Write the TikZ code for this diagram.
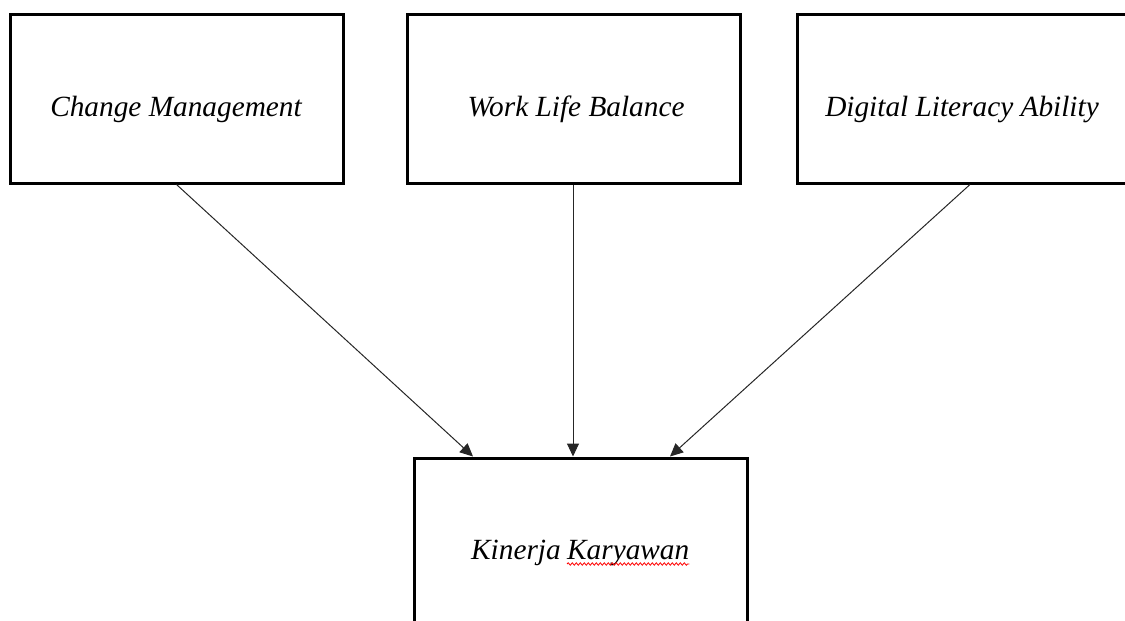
\documentclass[tikz,border=0pt]{standalone}
\usepackage{fontspec}
\setmainfont{Liberation Serif}
\usetikzlibrary{arrows.meta,calc,decorations.pathmorphing}
\begin{document}
\begin{tikzpicture}[x=1pt,y=-1pt,
  box/.style={draw,line width=3pt,minimum width=333pt,minimum height=169pt,inner sep=0pt},
  lbl/.style={inner sep=0pt,font=\fontsize{29.3}{35}\selectfont\itshape},
  conn/.style={line width=1pt,draw=black!85,-{Triangle[length=13pt,width=12pt]}}]
\useasboundingbox (0,0) rectangle (1125,621);
\clip (0,0) rectangle (1125,621);
\node[box] (b1) at (176.5,98.5) {};
\node[box] (b2) at (574,98.5) {};
\node[box] (b3) at (963.5,98.5) {};
\node[box] (b4) at (580.5,542.5) {};
\node[lbl,anchor=base] (t1) at (176,116) {Change Management};
\node[lbl,anchor=base] (t2) at (576,116) {Work Life Balance};
\node[lbl,anchor=base] (t3) at (962,116) {Digital Literacy Ability};
\node[lbl,anchor=base west] (t4a) at (471,559) {Kinerja};
\node[lbl,anchor=base west] (t4b) at (567,559) {Karyawan};
\draw[red,line width=0.8pt,decorate,decoration={snake,amplitude=1.2pt,segment length=4pt}]
  ($(t4b.base west)+(0,5)$) -- ($(t4b.base east)+(0,5)$);
\draw[conn] (b1.south) -- ($(b4.north)+(-107.5,0)$);
\draw[conn] ($(b2.south)+(-1,0)$) -- ($(b4.north)+(-7.5,0)$);
\draw[conn] ($(b3.south)+(6.5,0)$) -- ($(b4.north)+(89.5,0)$);
\end{tikzpicture}
\end{document}
